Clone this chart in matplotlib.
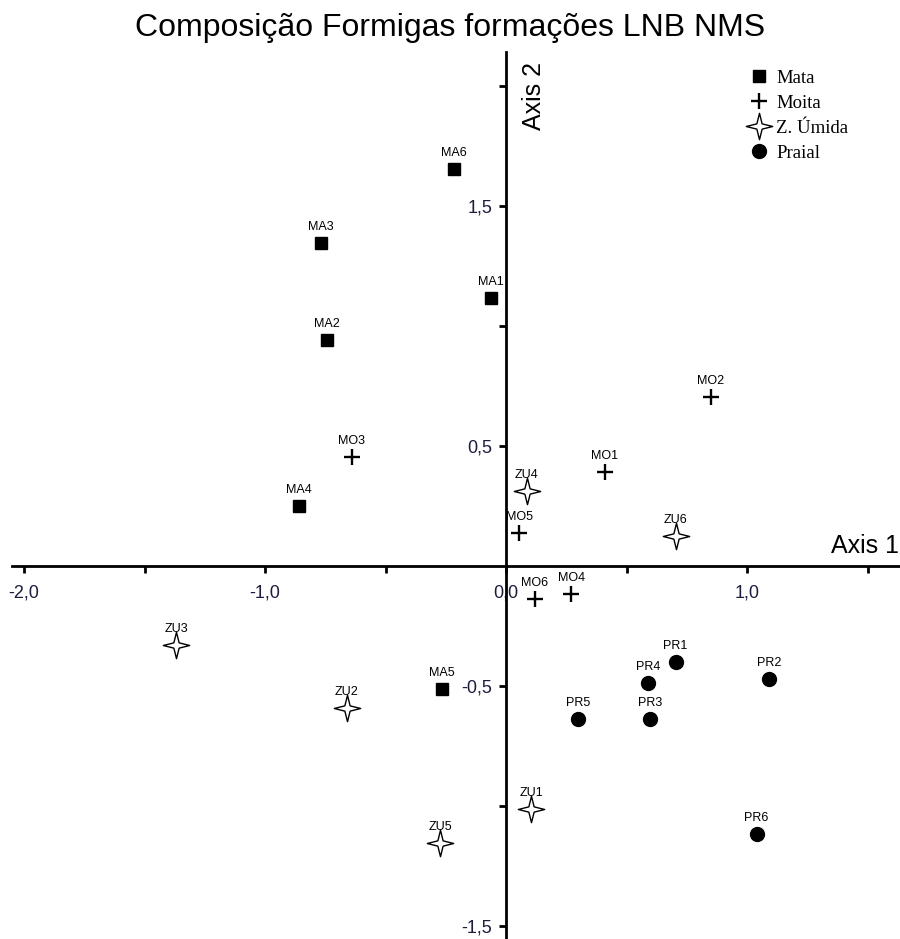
import matplotlib
matplotlib.use("Agg")
import matplotlib.pyplot as plt
from matplotlib.path import Path
from matplotlib.lines import Line2D

# NMS scores
mata_lab = ["MA1", "MA2", "MA3", "MA4", "MA5", "MA6"]
mata_x = [-0.063, -0.744, -0.769, -0.859, -0.266, -0.216]
mata_y = [1.115, 0.942, 1.347, 0.251, -0.512, 1.654]

moita_lab = ["MO1", "MO2", "MO3", "MO4", "MO5", "MO6"]
moita_x = [0.411, 0.849, -0.640, 0.270, 0.054, 0.120]
moita_y = [0.392, 0.703, 0.455, -0.117, 0.137, -0.137]

umida_lab = ["ZU1", "ZU2", "ZU3", "ZU4", "ZU5", "ZU6"]
umida_x = [0.104, -0.661, -1.369, 0.087, -0.274, 0.705]
umida_y = [-1.012, -0.590, -0.329, 0.312, -1.155, 0.125]

praial_lab = ["PR1", "PR2", "PR3", "PR4", "PR5", "PR6"]
praial_x = [0.704, 1.091, 0.598, 0.590, 0.300, 1.040]
praial_y = [-0.399, -0.472, -0.639, -0.486, -0.639, -1.117]

xticks = [-2.0, -1.5, -1.0, -0.5, 0.0, 0.5, 1.0, 1.5]
xticklabels = ["-2,0", "", "-1,0", "", "0,0", "", "1,0", ""]
yticks = [-1.5, -1.0, -0.5, 0.5, 1.0, 1.5, 2.0]
yticklabels = ["-1,5", "", "-0,5", "0,5", "", "1,5", ""]

# four point star
star = Path([(0, 1), (0.2, 0.2), (1, 0), (0.2, -0.2), (0, -1),
             (-0.2, -0.2), (-1, 0), (-0.2, 0.2), (0, 1)],
            [Path.MOVETO] + [Path.LINETO] * 7 + [Path.CLOSEPOLY])

plt.rcParams['font.family'] = ['Liberation Sans', 'DejaVu Sans']

fig = plt.figure(figsize=(9, 9.39), dpi=100)
ax = fig.add_axes([0, 0, 1, 1])
ax.set_xlim(-506 / 241, 394 / 241)
ax.set_ylim(-373 / 240, 566 / 240)

for s in ['top', 'right']:
    ax.spines[s].set_visible(False)
ax.spines['left'].set_position(('data', 0))
ax.spines['bottom'].set_position(('data', 0))
ax.spines['left'].set_linewidth(2)
ax.spines['bottom'].set_linewidth(2)
ax.spines['bottom'].set_bounds(-2.05, 1.64)
ax.spines['left'].set_bounds(-1.56, 2.14)

ax.set_xticks(xticks)
ax.set_xticklabels(xticklabels)
ax.set_yticks(yticks)
ax.set_yticklabels(yticklabels)
ax.tick_params(direction='out', length=5, width=2, labelsize=13, pad=8,
               labelcolor='#1c1c3c')
ax.tick_params(axis='y', pad=5)

ms = dict(linestyle='none', color='black')
ax.plot(mata_x, mata_y, marker='s', markersize=9, **ms)
ax.plot(moita_x, moita_y, marker='+', markersize=12, markeredgewidth=1.7, **ms)
ax.plot(umida_x, umida_y, marker=star, markersize=19, markerfacecolor='white',
        markeredgewidth=1.0, **ms)
ax.plot(praial_x, praial_y, marker='o', markersize=10, **ms)

for labs, xs, ys in [(mata_lab, mata_x, mata_y), (moita_lab, moita_x, moita_y),
                     (umida_lab, umida_x, umida_y), (praial_lab, praial_x, praial_y)]:
    for t, x, y in zip(labs, xs, ys):
        ax.annotate(t, (x, y), xytext=(0, 11.5), textcoords='offset points',
                    ha='center', va='center', fontsize=9)

ax.text(1.632, 0.035, "Axis 1", ha='right', va='bottom', fontsize=18)
ax.text(0.068, 2.1, "Axis 2", ha='left', va='top', rotation=90, fontsize=18)

fig.text(0.5, 1 - 28 / 939, "Composição Formigas formações LNB NMS",
         ha='center', va='center', fontsize=23)

handles = [
    Line2D([], [], marker='s', markersize=9, **ms),
    Line2D([], [], marker='+', markersize=12, markeredgewidth=1.7, **ms),
    Line2D([], [], marker=star, markersize=19, markerfacecolor='white',
           markeredgewidth=1.0, **ms),
    Line2D([], [], marker='o', markersize=10, **ms),
]
ax.legend(handles, ["Mata", "Moita", "Z. Úmida", "Praial"], loc='upper left',
          bbox_to_anchor=(738 / 900, 1 - 62 / 939), frameon=False,
          prop={'family': 'Liberation Serif', 'size': 13.5},
          handletextpad=0.25, labelspacing=0.42, handlelength=1.4,
          borderaxespad=0)

fig.savefig("out.png", dpi=100)
